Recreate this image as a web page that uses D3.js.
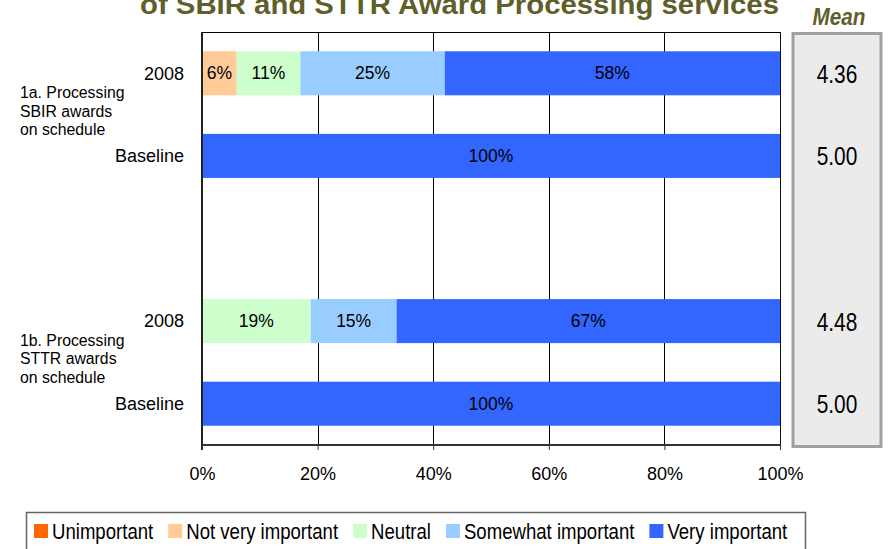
<!DOCTYPE html>
<html>
<head>
<meta charset="utf-8">
<script src="https://cdn.jsdelivr.net/npm/d3@7"></script>
<style>
  html, body { margin: 0; padding: 0; background: #fff; }
  svg { display: block; }
</style>
</head>
<body>
<svg id="chart" width="889" height="549"></svg>
<script>
// Response categories, in stacking order
const categories = ["Unimportant", "Not very important", "Neutral", "Somewhat important", "Very important"];
const categoryColors = ["#ff6600", "#ffcc99", "#ccffcc", "#99ccff", "#3366ff"];

// One row per bar: survey year / baseline for each item
const rowLabels = ["2008", "Baseline", "2008", "Baseline"];
const groupLabels = [
  ["1a. Processing", "SBIR awards", "on schedule"],
  ["1b. Processing", "STTR awards", "on schedule"]
];

// Percent of respondents per category, one entry per row
const unimportant      = [0, 0, 0, 0];
const notVeryImportant = [6, 0, 0, 0];
const neutral          = [11, 0, 19, 0];
const somewhatImportant = [25, 0, 15, 0];
const veryImportant    = [58, 100, 67, 100];

// Mean rating per row
const means = [4.36, 5.00, 4.48, 5.00];

// Axis ticks (percent)
const tickValues = [0, 20, 40, 60, 80, 100];

const seriesValues = [unimportant, notVeryImportant, neutral, somewhatImportant, veryImportant];

const svg = d3.select("#chart");
const SANS = "'Liberation Sans', Arial, Helvetica, sans-serif";
const OLIVE = "#5f5f2c";

const plot = { left: 202, right: 780, top: 32, bottom: 445 };

// Row slots, with an empty slot separating the two items
const slots = ["r0", "r1", "gap", "r2", "r3"];
const rowSlot = ["r0", "r1", "r2", "r3"];

const x = d3.scaleLinear().domain([0, 100]).range([plot.left, plot.right]);
const y = d3.scaleBand().domain(slots).range([plot.top, plot.bottom])
  .paddingInner(0.467).paddingOuter(0.2335);

// Build a table of rows and stack it; each row is scaled to its own total
const table = rowLabels.map((lab, i) => {
  const row = { slot: rowSlot[i] };
  const total = d3.sum(seriesValues, s => s[i]);
  categories.forEach((c, k) => { row[c] = seriesValues[k][i] / total * 100; row["raw_" + c] = seriesValues[k][i]; });
  return row;
});
const stacked = d3.stack().keys(categories)(table);

// Condensed text helper: position with translate, squeeze horizontally
function condensedText(parent, tx, ty, size, anchor, squeeze) {
  return parent.append("text")
    .attr("transform", `translate(${tx},${ty}) scale(${squeeze},1)`)
    .attr("text-anchor", anchor)
    .attr("dy", "0.35em")
    .attr("font-family", SANS).attr("font-size", size)
    .attr("fill", "#000");
}

// Title (upper line falls outside the canvas)
svg.append("text")
  .attr("x", 459.5).attr("y", 14)
  .attr("text-anchor", "middle")
  .attr("font-family", SANS).attr("font-weight", "bold").attr("font-size", 28)
  .attr("fill", OLIVE)
  .attr("textLength", 639).attr("lengthAdjust", "spacingAndGlyphs")
  .text("of SBIR and STTR Award Processing services");

// Plot frame (top) and vertical gridlines, behind the bars
const grid = svg.append("g");
grid.append("line")
  .attr("x1", plot.left).attr("x2", plot.right)
  .attr("y1", plot.top + 0.5).attr("y2", plot.top + 0.5)
  .attr("stroke", "#000").attr("stroke-width", 1);
grid.selectAll("line.v")
  .data(tickValues.slice(1))
  .join("line")
  .attr("class", "v")
  .attr("x1", d => Math.round(x(d)) + 0.5).attr("x2", d => Math.round(x(d)) + 0.5)
  .attr("y1", plot.top).attr("y2", plot.bottom)
  .attr("stroke", "#000").attr("stroke-width", 1);

// Stacked bars
const layers = svg.append("g").selectAll("g")
  .data(stacked)
  .join("g")
  .attr("fill", (d, i) => categoryColors[i]);

layers.selectAll("rect")
  .data(d => d)
  .join("rect")
  .attr("x", d => x(d[0]))
  .attr("width", d => x(d[1]) - x(d[0]))
  .attr("y", d => y(d.data.slot))
  .attr("height", y.bandwidth());

// Segment labels
const labelData = [];
stacked.forEach(layer => {
  layer.forEach(d => {
    const raw = d.data["raw_" + layer.key];
    if (raw > 0) labelData.push({ cx: (x(d[0]) + x(d[1])) / 2, cy: y(d.data.slot) + y.bandwidth() / 2, raw });
  });
});
svg.append("g").selectAll("text")
  .data(labelData)
  .join("text")
  .attr("x", d => d.cx).attr("y", d => d.cy)
  .attr("dy", "0.35em")
  .attr("text-anchor", "middle")
  .attr("font-family", SANS).attr("font-size", 17.5)
  .attr("fill", "#000")
  .text(d => d.raw + "%");

// Right frame line
svg.append("line")
  .attr("x1", plot.right + 0.5).attr("x2", plot.right + 0.5)
  .attr("y1", plot.top).attr("y2", plot.bottom + 5)
  .attr("stroke", "#111").attr("stroke-width", 1);

// Left axis line
svg.append("line")
  .attr("x1", plot.left).attr("x2", plot.left)
  .attr("y1", plot.top).attr("y2", plot.bottom + 5)
  .attr("stroke", "#222").attr("stroke-width", 2);

// Bottom axis
const xAxis = d3.axisBottom(x)
  .tickValues(tickValues)
  .tickFormat(d => d + "%")
  .tickSize(5)
  .tickPadding(17);
const ax = svg.append("g")
  .attr("transform", `translate(0,${plot.bottom})`)
  .call(xAxis);
ax.select(".domain").attr("stroke", "#333").attr("stroke-width", 2)
  .attr("d", `M${plot.left},0H${plot.right}`);
ax.selectAll(".tick line").attr("stroke", "#333").attr("stroke-width", 1);
ax.selectAll(".tick text")
  .attr("font-family", SANS).attr("font-size", 18).attr("fill", "#000");

// Row labels
svg.append("g").selectAll("text")
  .data(rowLabels)
  .join("text")
  .attr("x", 184)
  .attr("y", (d, i) => y(rowSlot[i]) + y.bandwidth() / 2)
  .attr("dy", "0.35em")
  .attr("text-anchor", "end")
  .attr("font-family", SANS).attr("font-size", 18)
  .attr("fill", "#000")
  .text(d => d);

// Item labels, centred between their two rows
groupLabels.forEach((lines, g) => {
  const yMid = (y(rowSlot[g * 2]) + y(rowSlot[g * 2 + 1]) + y.bandwidth()) / 2 - 3.5;
  const t = svg.append("text")
    .attr("font-family", SANS).attr("font-size", 15.8).attr("fill", "#000");
  lines.forEach((ln, j) => {
    t.append("tspan")
      .attr("x", 20)
      .attr("y", yMid + (j - 1) * 18.7)
      .attr("dy", "0.35em")
      .text(ln);
  });
});

// Mean panel
svg.append("rect")
  .attr("x", 793).attr("y", 33.5)
  .attr("width", 88).attr("height", 413)
  .attr("fill", "#ebebeb").attr("stroke", "#a0a0a0").attr("stroke-width", 3);
svg.append("text")
  .attr("transform", `translate(839,25) scale(0.9,1)`)
  .attr("text-anchor", "middle")
  .attr("font-family", SANS).attr("font-weight", "bold").attr("font-style", "italic")
  .attr("font-size", 23).attr("fill", OLIVE)
  .text("Mean");
const meanG = svg.append("g");
means.forEach((m, i) => {
  condensedText(meanG, 837, y(rowSlot[i]) + y.bandwidth() / 2 + 0.5, 25.5, "middle", 0.82)
    .text(m.toFixed(2));
});

// Legend
svg.append("rect")
  .attr("x", 26.5).attr("y", 512.5)
  .attr("width", 779).attr("height", 60)
  .attr("fill", "#fff").attr("stroke", "#666").attr("stroke-width", 1.5);
const legendG = svg.append("g");
const LEGEND_SQUEEZE = 0.845;
let lx = 34;
categories.forEach((c, i) => {
  legendG.append("rect")
    .attr("x", lx).attr("y", 524)
    .attr("width", 14).attr("height", 14)
    .attr("fill", categoryColors[i]);
  const t = condensedText(legendG, lx + 18, 531, 22, "start", LEGEND_SQUEEZE).text(c);
  lx = lx + 18 + t.node().getComputedTextLength() * LEGEND_SQUEEZE + 15;
});
</script>
</body>
</html>
